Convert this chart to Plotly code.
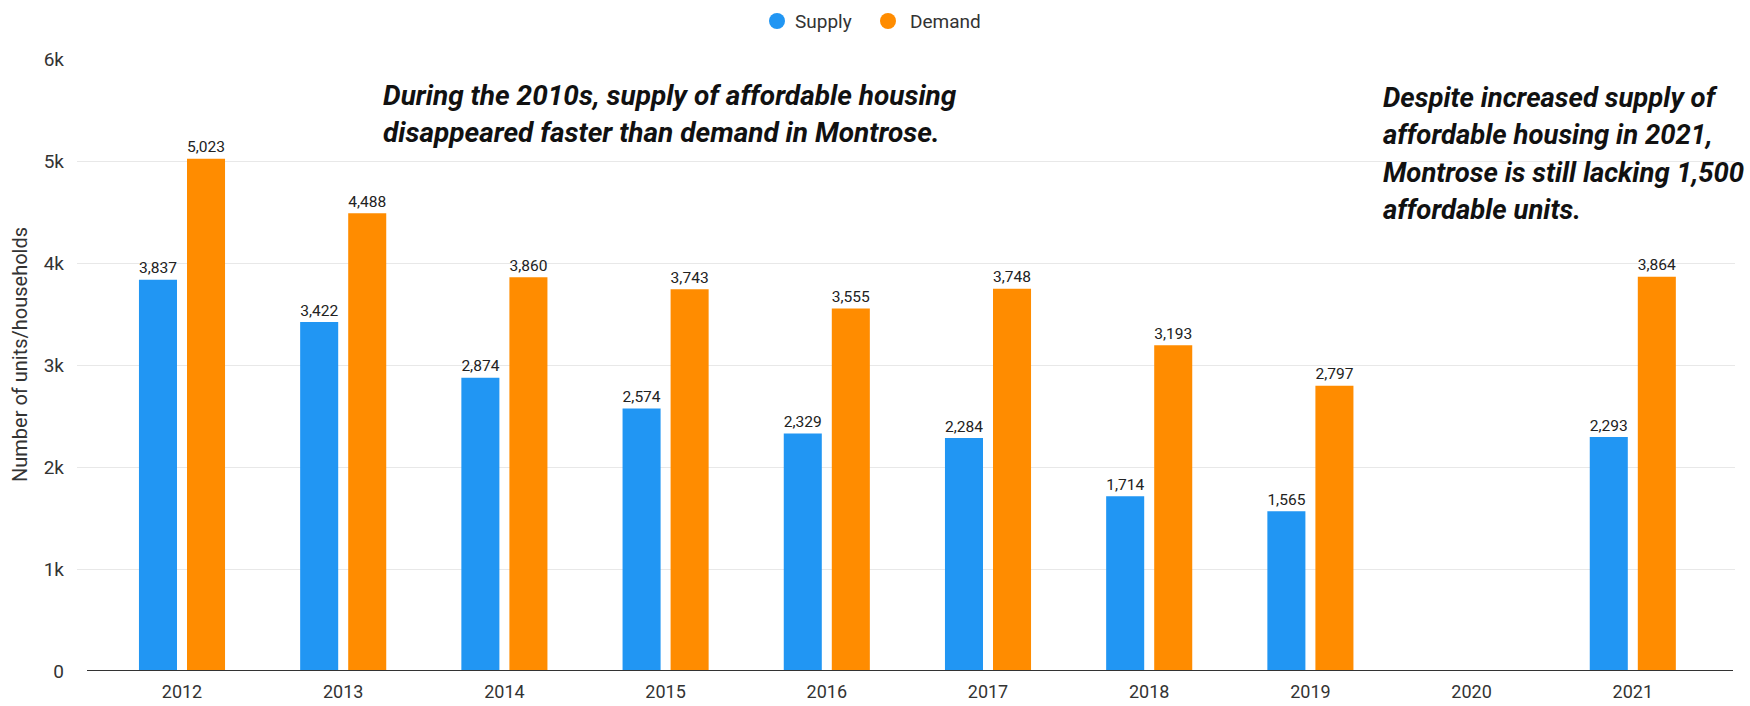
import plotly.graph_objects as go

# Affordable housing supply vs. demand in Montrose, by year
years = ["2012", "2013", "2014", "2015", "2016", "2017", "2018", "2019", "2020", "2021"]
supply = [3837, 3422, 2874, 2574, 2329, 2284, 1714, 1565, None, 2293]
demand = [5023, 4488, 3860, 3743, 3555, 3748, 3193, 2797, None, 3864]

y_tick_vals = [0, 1000, 2000, 3000, 4000, 5000, 6000]
y_tick_text = ["0", "1k", "2k", "3k", "4k", "5k", "6k"]

series_names = ["Supply", "Demand"]

note_left = [
    "During the 2010s, supply of affordable housing",
    "disappeared faster than demand in Montrose.",
]
note_right = [
    "Despite increased supply of",
    "affordable housing in 2021,",
    "Montrose is still lacking 1,500",
    "affordable units.",
]

BLUE = "#2196F3"
ORANGE = "#FF8C00"
FONT = "Roboto"
TEXT = "#333333"

W, H = 1750, 706
PL, PR, PT, PB = 77, 1735, 59, 671  # plot area in pixels


def px_x(px):
    return (px - PL) / (PR - PL)


def px_y(py):
    return (PB - py) / (PB - PT)


xs = list(range(len(years)))

fig = go.Figure()
for name, vals, color in [(series_names[0], supply, BLUE), (series_names[1], demand, ORANGE)]:
    fig.add_trace(go.Bar(
        x=xs, y=vals, name=name, marker=dict(color=color, line=dict(width=0)),
        texttemplate="%{y:,}", textposition="outside",
        textfont=dict(family=FONT, size=18, color="#222222"),
        cliponaxis=False, showlegend=False,
    ))

# dark baseline
fig.add_shape(type="line", xref="paper", yref="y", x0=px_x(87), x1=px_x(1733),
              y0=0, y1=0, line=dict(color="#333333", width=2), layer="above")

annotations = []

# legend: round swatches with labels, centred above the chart
legend_items = [(series_names[0], BLUE, 777, 793), (series_names[1], ORANGE, 888, 908)]
for name, color, cx, tx in legend_items:
    fig.add_shape(type="circle", xref="paper", yref="paper",
                  xsizemode="pixel", ysizemode="pixel",
                  xanchor=px_x(cx), yanchor=px_y(21),
                  x0=-8, x1=8, y0=-8, y1=8,
                  fillcolor=color, line=dict(width=0))
    annotations.append(dict(
        text=name, xref="paper", yref="paper", x=px_x(tx), y=px_y(21),
        xanchor="left", yanchor="middle", showarrow=False,
        font=dict(family=FONT, size=19, color=TEXT),
    ))

# y-axis title
annotations.append(dict(
    text="Number of units/households", xref="paper", yref="paper",
    x=px_x(20), y=px_y(355), xanchor="center", yanchor="middle",
    textangle=-90, showarrow=False,
    font=dict(family=FONT, size=20, color=TEXT),
))

for i, line in enumerate(note_left):
    annotations.append(dict(
        text=line, xref="paper", yref="paper", x=px_x(381), y=px_y(95 + i * 37),
        xanchor="left", yanchor="middle", showarrow=False, align="left",
        font=dict(family=FONT, size=28, color="#111111", weight="bold", style="italic"),
    ))
for i, line in enumerate(note_right):
    annotations.append(dict(
        text=line, xref="paper", yref="paper", x=px_x(1381), y=px_y(97 + i * 37.5),
        xanchor="left", yanchor="middle", showarrow=False, align="left",
        font=dict(family=FONT, size=27.5, color="#111111", weight="bold", style="italic"),
    ))

fig.update_layout(
    width=W, height=H,
    margin=dict(l=PL, r=W - PR, t=PT, b=H - PB, pad=0, autoexpand=False),
    paper_bgcolor="white", plot_bgcolor="white",
    barmode="group", bargap=0.404, bargroupgap=0.208,
    font=dict(family=FONT, size=19, color=TEXT),
    annotations=annotations,
    showlegend=False,
    xaxis=dict(
        range=[(PL - 182) / 161.2, (PR - 182) / 161.2],
        tickvals=xs, ticktext=years, showgrid=False, zeroline=False,
        showline=False, ticks="", tickfont=dict(size=18, color=TEXT),
        ticklabelstandoff=8, automargin=False,
    ),
    yaxis=dict(
        range=[0, 6000], tickvals=y_tick_vals, ticktext=y_tick_text,
        showgrid=True, gridcolor="#e8e8e8", gridwidth=1, zeroline=False,
        showline=False, ticks="", tickfont=dict(size=19, color=TEXT),
        ticklabelstandoff=12, automargin=False,
    ),
)

fig.write_html("out.html")
